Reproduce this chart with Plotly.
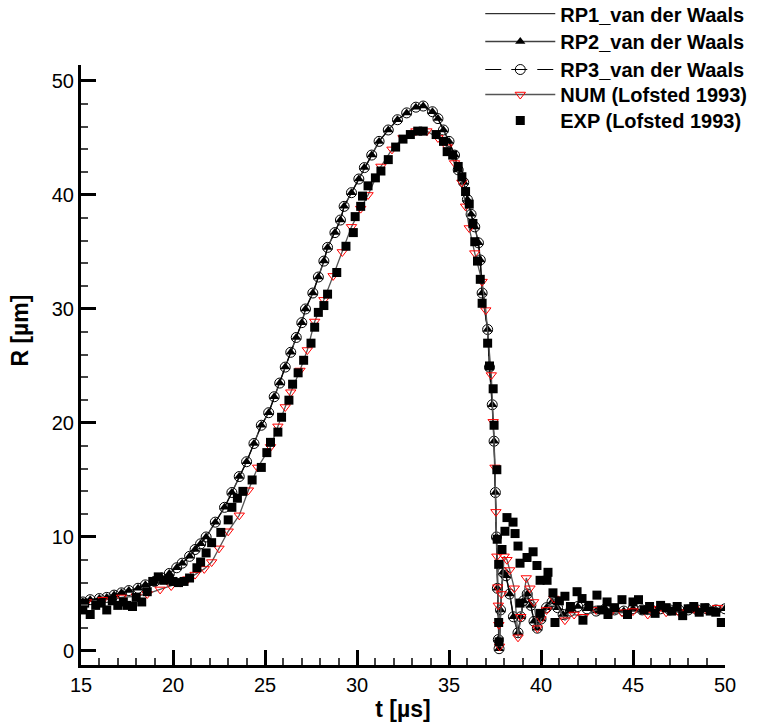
import plotly.graph_objects as go

# ---------------- data ----------------
rp_t = [15.1, 15.5, 16.0, 16.4, 16.8, 17.2, 17.6, 18.1, 18.5, 19.0, 19.4, 19.8, 20.2, 20.5,
        20.9, 21.2, 21.5, 21.8, 22.3, 22.8, 23.2, 23.6, 24.0, 24.4, 24.8, 25.2, 25.5, 25.8,
        26.1, 26.4, 26.7, 27.0, 27.2, 27.6, 27.9, 28.2, 28.4, 28.8, 29.1, 29.3, 29.7, 30.1,
        30.4, 30.8, 31.2, 31.7, 32.2, 32.7, 33.2, 33.6, 34.1, 34.4, 34.7, 35.0, 35.3, 35.5,
        35.8, 36.0, 36.2, 36.4, 36.6, 36.7, 36.8, 37.1, 37.2, 37.35, 37.45, 37.52, 37.58,
        37.63, 37.68, 37.72, 37.8, 37.93, 38.1, 38.3, 38.5, 38.75, 38.9, 39.05, 39.25, 39.45,
        39.62, 39.8, 40.0, 40.3, 40.6, 40.9, 41.2, 41.6, 42.0, 42.5, 43.0, 43.5, 44.0, 44.5,
        45.0, 45.5, 46.0, 46.5, 47.0, 47.5, 48.0, 48.5, 49.0, 49.5, 50.0]
rp1_r = [4.3, 4.5, 4.6, 4.7, 4.9, 5.1, 5.3, 5.5, 5.8, 6.1, 6.4, 6.8, 7.3, 7.7,
         8.3, 8.9, 9.4, 10.0, 11.3, 12.6, 13.9, 15.3, 16.6, 18.2, 19.8, 20.9, 22.3, 23.5,
         24.9, 26.2, 27.5, 28.8, 30.0, 31.4, 32.8, 34.2, 35.4, 36.7, 37.8, 39.0, 40.2, 41.4,
         42.4, 43.5, 44.7, 45.7, 46.6, 47.2, 47.7, 47.8, 47.3, 46.7, 45.7, 44.7, 43.5, 42.2,
         41.1, 39.6, 38.3, 37.2, 35.8, 34.3, 31.4, 28.2, 24.9, 21.6, 18.4, 13.9, 10.0,
         5.5, 1.0, 0.2, 3.6, 6.9, 6.6, 5.0, 3.0, 1.6, 3.0, 4.4, 5.0, 4.0,
         2.6, 2.0, 2.8, 3.8, 4.3, 3.8, 3.2, 3.5, 3.9, 3.7, 3.5, 3.7, 3.6, 3.5,
         3.7, 3.6, 3.6, 3.7, 3.6, 3.6, 3.6, 3.6, 3.7, 3.6, 3.7]
rp2_r = list(rp1_r)
rp3_r = list(rp1_r)

num_t = [15.3, 16.2, 17.2, 18.0, 18.6, 19.3, 19.9, 20.4, 20.8, 21.2, 21.7, 22.1, 22.5, 23.0,
         23.6, 24.1, 24.6, 25.3, 25.7, 26.1, 26.4, 26.9, 27.3, 27.7, 28.2, 28.7, 29.2, 29.7,
         30.2, 30.6, 31.3, 31.9, 32.5, 33.2, 33.8, 34.4, 34.9, 35.3, 35.7, 35.9, 36.1, 36.4,
         36.8, 37.0, 37.3, 37.4, 37.5, 37.55, 37.6, 37.65, 37.68, 37.71, 37.75, 37.85, 38.0,
         38.15, 38.3, 38.55, 38.75, 38.9, 39.2, 39.4, 39.6, 39.8, 40.0, 40.3, 40.7, 41.3, 41.8,
         42.3, 43.0, 43.7, 44.4, 45.0, 45.8, 46.4, 46.8, 47.5, 48.3, 49.0, 49.6]
num_r = [4.3, 4.5, 4.7, 4.8, 5.0, 5.4, 5.7, 6.0, 6.3, 6.7, 7.2, 7.8, 9.0, 10.5,
         11.9, 14.1, 16.1, 17.9, 19.7, 21.4, 22.7, 24.6, 26.4, 28.9, 30.8, 32.9, 35.0, 37.2,
         38.8, 40.0, 42.5, 44.0, 45.0, 45.6, 45.6, 45.0, 44.2, 42.8, 41.1, 39.0, 37.1, 34.9,
         32.4, 29.9, 24.2, 20.1, 16.1, 12.2, 8.3, 5.6, 4.0, 2.3, 0.4, 5.0, 8.3,
         8.0, 7.1, 5.5, 1.2, 3.0, 6.4, 5.5, 4.3, 2.0, 2.8, 3.6, 4.6, 2.7, 3.2,
         3.0, 3.6, 3.2, 3.4, 3.5, 3.2, 3.7, 3.4, 3.4, 3.7, 3.6, 3.8]

exp_t = [15.1, 15.2, 15.5, 15.8, 16.1, 16.4, 16.7, 17.0, 17.3, 17.5, 17.8, 18.0, 18.3, 18.6,
         18.9, 19.2, 19.5, 19.8, 20.0, 20.3, 20.6, 20.9, 21.3, 21.5, 21.8, 22.1, 22.6, 23.0,
         23.2, 23.5, 23.8, 24.3, 24.8, 25.1, 25.3, 25.7, 25.9, 26.3, 26.5, 26.8, 27.1, 27.5,
         27.7, 27.9, 28.2, 28.4, 28.9, 29.4, 29.8, 29.9, 30.2, 30.3, 30.6, 31.0, 31.3, 31.7,
         32.1, 32.5, 32.9, 33.3, 33.6, 34.3, 34.7, 34.9, 35.2, 35.5, 35.7, 35.9, 36.1, 36.3,
         36.4, 36.55, 36.7, 36.8, 37.1, 37.2, 37.4, 37.45, 37.6, 37.62, 37.7, 37.7, 37.72,
         37.88, 38.04, 38.15, 38.48, 38.59, 38.75, 38.86, 38.86, 39.24, 39.57, 39.78, 39.95,
         39.95, 40.33, 40.38, 40.65, 40.76, 41.0, 41.3, 41.6, 41.96, 42.23, 42.28, 42.6, 43.04,
         43.3, 43.59, 43.64, 44.0, 44.4, 44.7, 45.0, 45.3, 45.6, 45.9, 46.2, 46.5, 46.8, 47.1,
         47.4, 47.7, 48.0, 48.3, 48.6, 48.9, 49.2, 49.5, 49.8]
exp_r = [3.6, 4.2, 3.2, 4.0, 4.2, 3.6, 4.4, 4.0, 4.3, 4.0, 3.9, 4.7, 4.3, 5.2,
         6.1, 6.5, 6.2, 6.3, 6.1, 6.0, 6.1, 6.4, 7.3, 7.8, 8.6, 9.5, 10.4, 11.5,
         12.6, 13.4, 14.0, 15.0, 16.1, 17.4, 18.3, 19.2, 20.5, 22.0, 23.4, 24.4, 25.5, 27.0,
         28.4, 29.7, 30.3, 31.3, 33.2, 35.5, 36.7, 38.1, 39.0, 39.9, 40.8, 41.5, 42.1, 43.1,
         44.2, 44.9, 45.3, 45.6, 45.6, 45.3, 44.7, 43.8, 43.5, 42.5, 41.6, 40.3, 39.2, 37.5,
         35.9, 34.2, 32.6, 30.5, 27.0, 25.0, 23.0, 19.8, 15.9, 9.8, 7.6, 2.5, 0.8,
         8.9, 10.5, 11.7, 11.3, 10.3, 9.2, 7.7, 4.2, 8.2, 8.7, 7.5, 6.2,
         3.3, 6.2, 6.9, 5.1, 2.5, 4.4, 4.8, 3.9, 5.2, 4.6, 2.7, 4.0, 4.9,
         3.6, 4.3, 3.2, 3.8, 4.5, 3.2, 4.3, 4.5, 3.6, 3.9, 3.3, 4.0, 3.8, 3.5,
         3.9, 3.1, 3.7, 3.9, 3.4, 3.8, 3.5, 3.4, 2.5]

series_names = ["RP1_van der Waals", "RP2_van der Waals", "RP3_van der Waals",
                "NUM (Lofsted 1993)", "EXP (Lofsted 1993)"]

FONT = "Arial, Liberation Sans, sans-serif"

fig = go.Figure()
fig.add_trace(go.Scatter(x=rp_t, y=rp1_r, mode="lines", name=series_names[0], legend="legend",
                         line=dict(color="black", width=1)))
fig.add_trace(go.Scatter(x=rp_t, y=rp2_r, mode="lines+markers", name=series_names[1],
                         legend="legend2",
                         line=dict(color="#404040", width=1.5),
                         marker=dict(symbol="triangle-up", size=9, color="black")))
fig.add_trace(go.Scatter(x=rp_t, y=rp3_r, mode="lines+markers", name=series_names[2],
                         legend="legend3",
                         line=dict(color="black", width=1, dash="16px,10px"),
                         marker=dict(symbol="circle-open", size=10, color="black",
                                     line=dict(width=1, color="black"))))
fig.add_trace(go.Scatter(x=num_t, y=num_r, mode="lines+markers", name=series_names[3],
                         legend="legend4",
                         line=dict(color="#555555", width=1.3),
                         marker=dict(symbol="triangle-down-open", size=9, color="#ff0000",
                                     line=dict(width=1, color="#ff0000"))))
fig.add_trace(go.Scatter(x=exp_t, y=exp_r, mode="markers", name=series_names[4],
                         legend="legend5",
                         marker=dict(symbol="square", size=9, color="black")))

axis_common = dict(
    showline=True, linecolor="black", linewidth=3, mirror=False,
    ticks="inside", ticklen=15, tickwidth=3, tickcolor="black",
    showgrid=False, zeroline=False,
    tickfont=dict(family=FONT, size=20, color="black"),
)


def leg(ytop):
    return dict(x=0.62, y=ytop, xanchor="left", yanchor="top",
                font=dict(family=FONT, size=20, color="black", weight="bold"),
                itemwidth=70, bgcolor="rgba(0,0,0,0)")


fig.update_layout(
    width=774, height=724,
    margin=dict(l=81, r=49, t=65, b=59, autoexpand=False),
    paper_bgcolor="white", plot_bgcolor="white",
    font=dict(family=FONT, color="black"),
    xaxis=dict(range=[15, 50], dtick=5, tick0=15,
               minor=dict(ticks="inside", ticklen=7, tickwidth=1.5, tickcolor="#444", dtick=1),
               title=dict(text="<b>t [µs]</b>", font=dict(family=FONT, size=23), standoff=6),
               **axis_common),
    yaxis=dict(range=[-1.23, 51.4], dtick=10, tick0=0,
               minor=dict(ticks="inside", ticklen=7, tickwidth=1.5, tickcolor="#444", dtick=2),
               **axis_common),
    legend=leg(1.118),
    legend2=leg(1.0717),
    legend3=leg(1.025),
    legend4=leg(0.9833),
    legend5=leg(0.94),
    annotations=[dict(text="<b>R [µm]</b>", textangle=-90, showarrow=False,
                      xref="paper", yref="paper", x=-0.095, y=0.557,
                      xanchor="center", yanchor="middle",
                      font=dict(family=FONT, size=23, color="black"))],
    showlegend=True,
)

fig.write_html("out.html")
